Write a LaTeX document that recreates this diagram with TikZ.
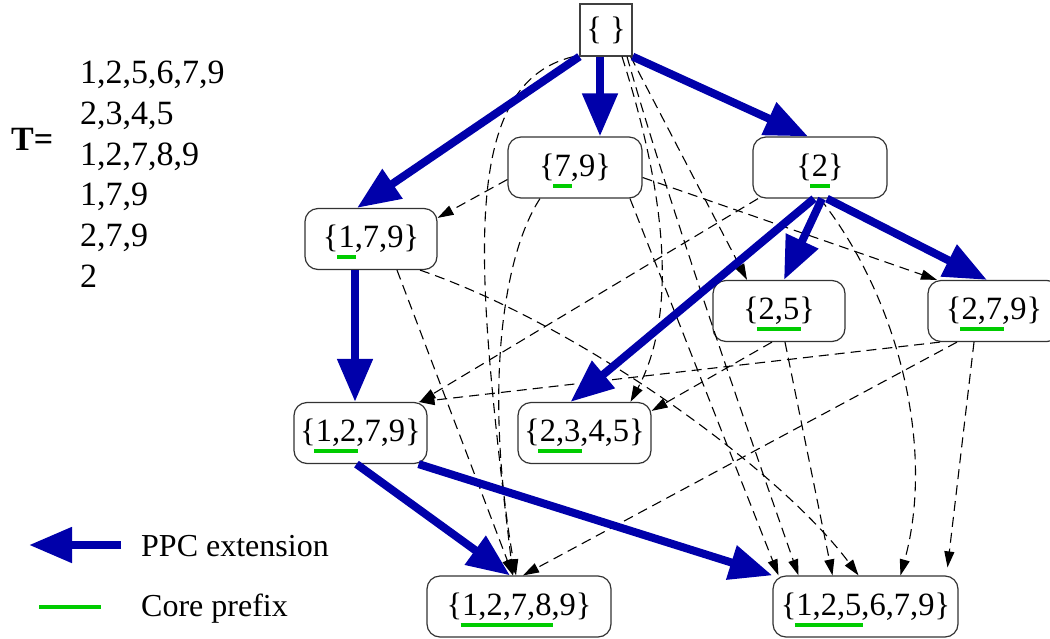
\documentclass[tikz,border=0pt]{standalone}
\usepackage{fontspec}
\setmainfont{Liberation Serif}
\usetikzlibrary{arrows.meta}
\definecolor{ppcblue}{RGB}{0,0,170}
\definecolor{coregreen}{RGB}{0,204,0}
\newcommand\cpre[1]{\setbox0=\hbox{#1}\rlap{\kern-1.5pt\smash{\color{coregreen}\rule[-11.5pt]{\dimexpr\wd0+3pt\relax}{4pt}}}\box0}
\begin{document}
\begin{tikzpicture}[x=1pt,y=-1pt,
  setnode/.style={draw=black!80, line width=1.2pt, rounded corners=13pt, fill=white, minimum height=61pt, inner sep=0pt, font=\fontsize{32.5}{38}\selectfont},
  emptynode/.style={draw=black!75, line width=1.2pt, fill=white, minimum size=52pt, inner sep=0pt, font=\fontsize{32.5}{38}\selectfont},
  ppc/.style={draw=ppcblue, line width=8pt, -{Triangle[length=43pt,width=34pt]}},
  sub/.style={draw=black, line width=1.1pt, dash pattern=on 10pt off 6pt, -{Triangle[length=16pt,width=10pt]}},
  tlist/.style={anchor=base west, inner sep=0pt, font=\fontsize{34}{40}\selectfont},
  legtext/.style={anchor=base west, inner sep=0pt, font=\fontsize{32}{38}\selectfont},
  coreline/.style={draw=coregreen, line width=4pt}]
\useasboundingbox (0,0) rectangle (1050,638);

% transaction list
\node[anchor=base west, inner sep=0pt, font=\fontsize{34}{40}\selectfont\bfseries] (tlab) at (11,150) {T=};
\node[tlist] (t1) at (80,83) {1,2,5,6,7,9};
\node[tlist] (t2) at (80,124) {2,3,4,5};
\node[tlist] (t3) at (80,165) {1,2,7,8,9};
\node[tlist] (t4) at (80,205) {1,7,9};
\node[tlist] (t5) at (80,246) {2,7,9};
\node[tlist] (t6) at (80,287) {2};

% nodes
\node[emptynode] (e) at (606,30) {\{ \}};
\node[setnode, minimum width=134pt] (n79) at (575,167.5) {\{\cpre{7},9\}};
\node[setnode, minimum width=134pt] (n2) at (820,167.5) {\{\cpre{2}\}};
\node[setnode, minimum width=132pt] (n179) at (371,239) {\{\cpre{1},7,9\}};
\node[setnode, minimum width=132pt] (n25) at (779,311) {\{\cpre{2,5}\}};
\node[setnode, minimum width=132pt] (n279) at (994,311) {\{\cpre{2,7},9\}};
\node[setnode, minimum width=133pt] (n1279) at (360.5,433) {\{\cpre{1,2},7,9\}};
\node[setnode, minimum width=133pt] (n2345) at (584.5,433) {\{\cpre{2,3},4,5\}};
\node[setnode, minimum width=184pt] (n12789) at (519,606.5) {\{\cpre{1,2,7,8},9\}};
\node[setnode, minimum width=185pt] (n125679) at (865.5,606.5) {\{\cpre{1,2,5},6,7,9\}};

% dashed (subset) edges
\draw[sub] ([yshift=-12pt]n79.west) -- ([yshift=-10pt]n179.north east);
\draw[sub] ([yshift=-10pt]n79.east) -- ([xshift=-57pt]n279.north);
\draw[sub] ([xshift=-35pt]n79.south) .. controls (500,260) and (485,400) .. ([xshift=-3pt]n12789.north);
\draw[sub] ([xshift=55pt]n79.south) -- ([xshift=-87pt]n125679.north);
\draw[sub] ([xshift=-2pt]e.south east) -- ([xshift=-32pt]n25.north);
\draw[sub] ([xshift=16pt]e.south) .. controls (655,160) and (685,300) .. ([xshift=46pt]n2345.north);
\draw[sub] ([xshift=-6pt]e.south west) .. controls (455,85) and (478,280) .. ([xshift=-6pt]n12789.north);
\draw[sub] ([xshift=21pt]e.south) .. controls (665,190) and (730,380) .. ([xshift=-67pt]n125679.north);
\draw[sub] ([xshift=-62pt]n2.south) -- ([xshift=-8pt]n1279.north east);
\draw[sub] (n2.south) .. controls (900,300) and (935,450) .. ([xshift=35pt]n125679.north);
\draw[sub] ([xshift=-54pt]n279.south) -- ([xshift=-9pt]n1279.north east);
\draw[sub] ([xshift=-37pt]n279.south) -- ([xshift=4pt]n12789.north);
\draw[sub] ([xshift=-20pt]n279.south) -- ([xshift=82pt,yshift=8pt]n125679.north);
\draw[sub] ([xshift=-7pt]n25.south) -- ([yshift=-9pt]n2345.north east);
\draw[sub] ([xshift=6pt]n25.south) -- ([xshift=-33pt]n125679.north);
\draw[sub] ([xshift=26pt]n179.south) -- ([xshift=-6pt]n12789.north);
\draw[sub] ([xshift=49pt]n179.south) .. controls (580,325) and (780,470) .. ([xshift=-7pt]n125679.north);

% PPC extension edges
\draw[ppc] ([xshift=-6pt]e.south) -- ([xshift=25pt]n79.north);
\draw[ppc] (e.south west) -- ([xshift=-14pt]n179.north);
\draw[ppc] (e.south east) -- ([xshift=-12pt]n2.north);
\draw[ppc] ([xshift=-16pt]n179.south) -- ([xshift=-5.5pt]n1279.north);
\draw[ppc] ([xshift=2pt]n2.south) -- ([xshift=5pt]n25.north);
\draw[ppc] ([xshift=7pt]n2.south) -- ([xshift=-7pt]n279.north);
\draw[ppc] ([xshift=-6pt]n2.south) -- ([xshift=-14pt]n2345.north);
\draw[ppc] ([xshift=-4pt]n1279.south) -- ([xshift=-9pt]n12789.north);
\draw[ppc] ([xshift=-9pt]n1279.south east) -- (n125679.north west);

% legend
\coordinate (lgtail) at (121,545);
\coordinate (lghead) at (29,545);
\draw[ppc] (lgtail) -- (lghead);
\node[legtext] (lgppc) at (141,556) {PPC extension};
\coordinate (lgc1) at (39,607);
\coordinate (lgc2) at (101,607);
\draw[coreline] (lgc1) -- (lgc2);
\node[legtext] (lgcore) at (141,616) {Core prefix};
\end{tikzpicture}
\end{document}
